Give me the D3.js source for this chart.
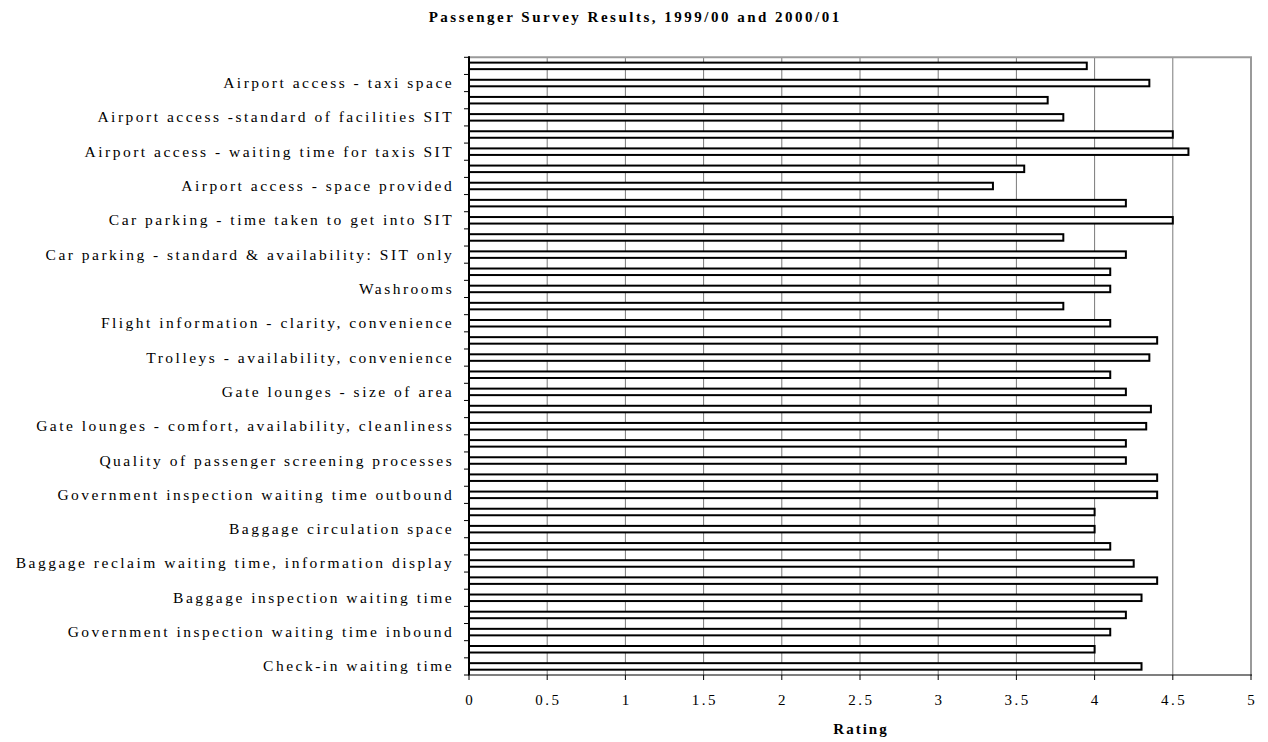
<!DOCTYPE html>
<html>
<head>
<meta charset="utf-8">
<script src="https://cdn.jsdelivr.net/npm/d3@7/dist/d3.min.js"></script>
<style>
  body { margin: 0; background: #fff; }
  text { font-family: "Liberation Serif", "Times New Roman", serif; fill: #000; }
</style>
</head>
<body>
<svg id="chart" width="1268" height="742"></svg>
<script>
// Survey items, listed top to bottom as drawn
const items = [
  "Airport access - taxi space",
  "Airport access -standard of facilities SIT",
  "Airport access - waiting time for taxis SIT",
  "Airport access - space provided",
  "Car parking - time taken to get into SIT",
  "Car parking - standard & availability: SIT only",
  "Washrooms",
  "Flight information - clarity, convenience",
  "Trolleys - availability, convenience",
  "Gate lounges - size of area",
  "Gate lounges - comfort, availability, cleanliness",
  "Quality of passenger screening processes",
  "Government inspection waiting time outbound",
  "Baggage circulation space",
  "Baggage reclaim waiting time, information display",
  "Baggage inspection waiting time",
  "Government inspection waiting time inbound",
  "Check-in waiting time"
];

// Rating on the unlabelled row just above each item label
const rating2000 = [3.95, 3.70, 4.50, 3.55, 4.20, 3.80, 4.10, 3.80, 4.40,
                    4.10, 4.36, 4.20, 4.40, 4.00, 4.10, 4.40, 4.20, 4.00];
// Rating on the row carrying the item label
const rating1999 = [4.35, 3.80, 4.60, 3.35, 4.50, 4.20, 4.10, 4.10, 4.35,
                    4.20, 4.33, 4.20, 4.40, 4.00, 4.25, 4.30, 4.10, 4.30];

const xTicks = [0, 0.5, 1, 1.5, 2, 2.5, 3, 3.5, 4, 4.5, 5];
const chartTitle = "Passenger Survey Results, 1999/00 and 2000/01";
const xAxisTitle = "Rating";

// Every item occupies two category rows; only the lower one is labelled
const rows = items.flatMap((name, i) => [
  { key: i + "-a", label: "", value: rating2000[i] },
  { key: i + "-b", label: name, value: rating1999[i] }
]);

const plot = { left: 469, right: 1251, top: 57.3, bottom: 675 };
const spacing = 2.5;

const svg = d3.select("#chart");

const x = d3.scaleLinear().domain([0, 5]).range([plot.left, plot.right]);
const y = d3.scaleBand()
  .domain(rows.map(r => r.key))
  .range([plot.top, plot.bottom])
  .paddingInner(0.62)
  .paddingOuter(0.31);
// Row boundaries for the category tick marks
const yRow = d3.scaleLinear().domain([0, rows.length]).range([plot.top, plot.bottom]);

// Title
svg.append("text")
  .attr("x", 634 + 1.25)
  .attr("y", 22)
  .attr("text-anchor", "middle")
  .style("font-size", "15px")
  .style("font-weight", "bold")
  .style("letter-spacing", "2.5px")
  .text(chartTitle);

// Vertical gridlines
svg.append("g")
  .selectAll("line")
  .data(xTicks.filter(t => t > 0 && t < 5))
  .join("line")
  .attr("x1", d => x(d)).attr("x2", d => x(d))
  .attr("y1", plot.top).attr("y2", plot.bottom)
  .attr("stroke", "#7a7a7a")
  .attr("stroke-width", 1);

// Plot frame (top and right)
svg.append("path")
  .attr("d", `M${plot.left},${plot.top}H${plot.right}V${plot.bottom}`)
  .attr("fill", "none")
  .attr("stroke", "#9a9a9a")
  .attr("stroke-width", 2);

// Bars
svg.append("g")
  .selectAll("rect")
  .data(rows)
  .join("rect")
  .attr("x", x(0))
  .attr("y", d => y(d.key))
  .attr("width", d => x(d.value) - x(0))
  .attr("height", y.bandwidth())
  .attr("fill", "#fff")
  .attr("stroke", "#000")
  .attr("stroke-width", 2);

// Category axis line and ticks
svg.append("line")
  .attr("x1", plot.left).attr("x2", plot.left)
  .attr("y1", plot.top - 1).attr("y2", plot.bottom)
  .attr("stroke", "#000").attr("stroke-width", 2);
svg.append("g")
  .selectAll("line")
  .data(d3.range(rows.length + 1))
  .join("line")
  .attr("x1", plot.left - 5).attr("x2", plot.left)
  .attr("y1", d => yRow(d)).attr("y2", d => yRow(d))
  .attr("stroke", "#000").attr("stroke-width", 1);

// Category labels
svg.append("g")
  .selectAll("text")
  .data(rows.filter(r => r.label))
  .join("text")
  .attr("x", 451.7 + spacing)
  .attr("y", d => y(d.key) + y.bandwidth() / 2 + 5)
  .attr("text-anchor", "end")
  .style("font-size", "15.5px")
  .style("letter-spacing", spacing + "px")
  .text(d => d.label);

// Value axis line, ticks and labels
svg.append("line")
  .attr("x1", plot.left - 1).attr("x2", plot.right + 1)
  .attr("y1", plot.bottom).attr("y2", plot.bottom)
  .attr("stroke", "#000").attr("stroke-width", 1.2);
svg.append("g")
  .selectAll("line")
  .data(xTicks)
  .join("line")
  .attr("x1", d => x(d)).attr("x2", d => x(d))
  .attr("y1", plot.bottom).attr("y2", plot.bottom + 5)
  .attr("stroke", "#000").attr("stroke-width", 1);
svg.append("g")
  .selectAll("text")
  .data(xTicks)
  .join("text")
  .attr("x", d => x(d) + spacing / 2)
  .attr("y", 704.5)
  .attr("text-anchor", "middle")
  .style("font-size", "15px")
  .style("letter-spacing", spacing + "px")
  .text(d => String(d));

// Value axis title
svg.append("text")
  .attr("x", (plot.left + plot.right) / 2 + 1)
  .attr("y", 734)
  .attr("text-anchor", "middle")
  .style("font-size", "15px")
  .style("font-weight", "bold")
  .style("letter-spacing", "2px")
  .text(xAxisTitle);
</script>
</body>
</html>
